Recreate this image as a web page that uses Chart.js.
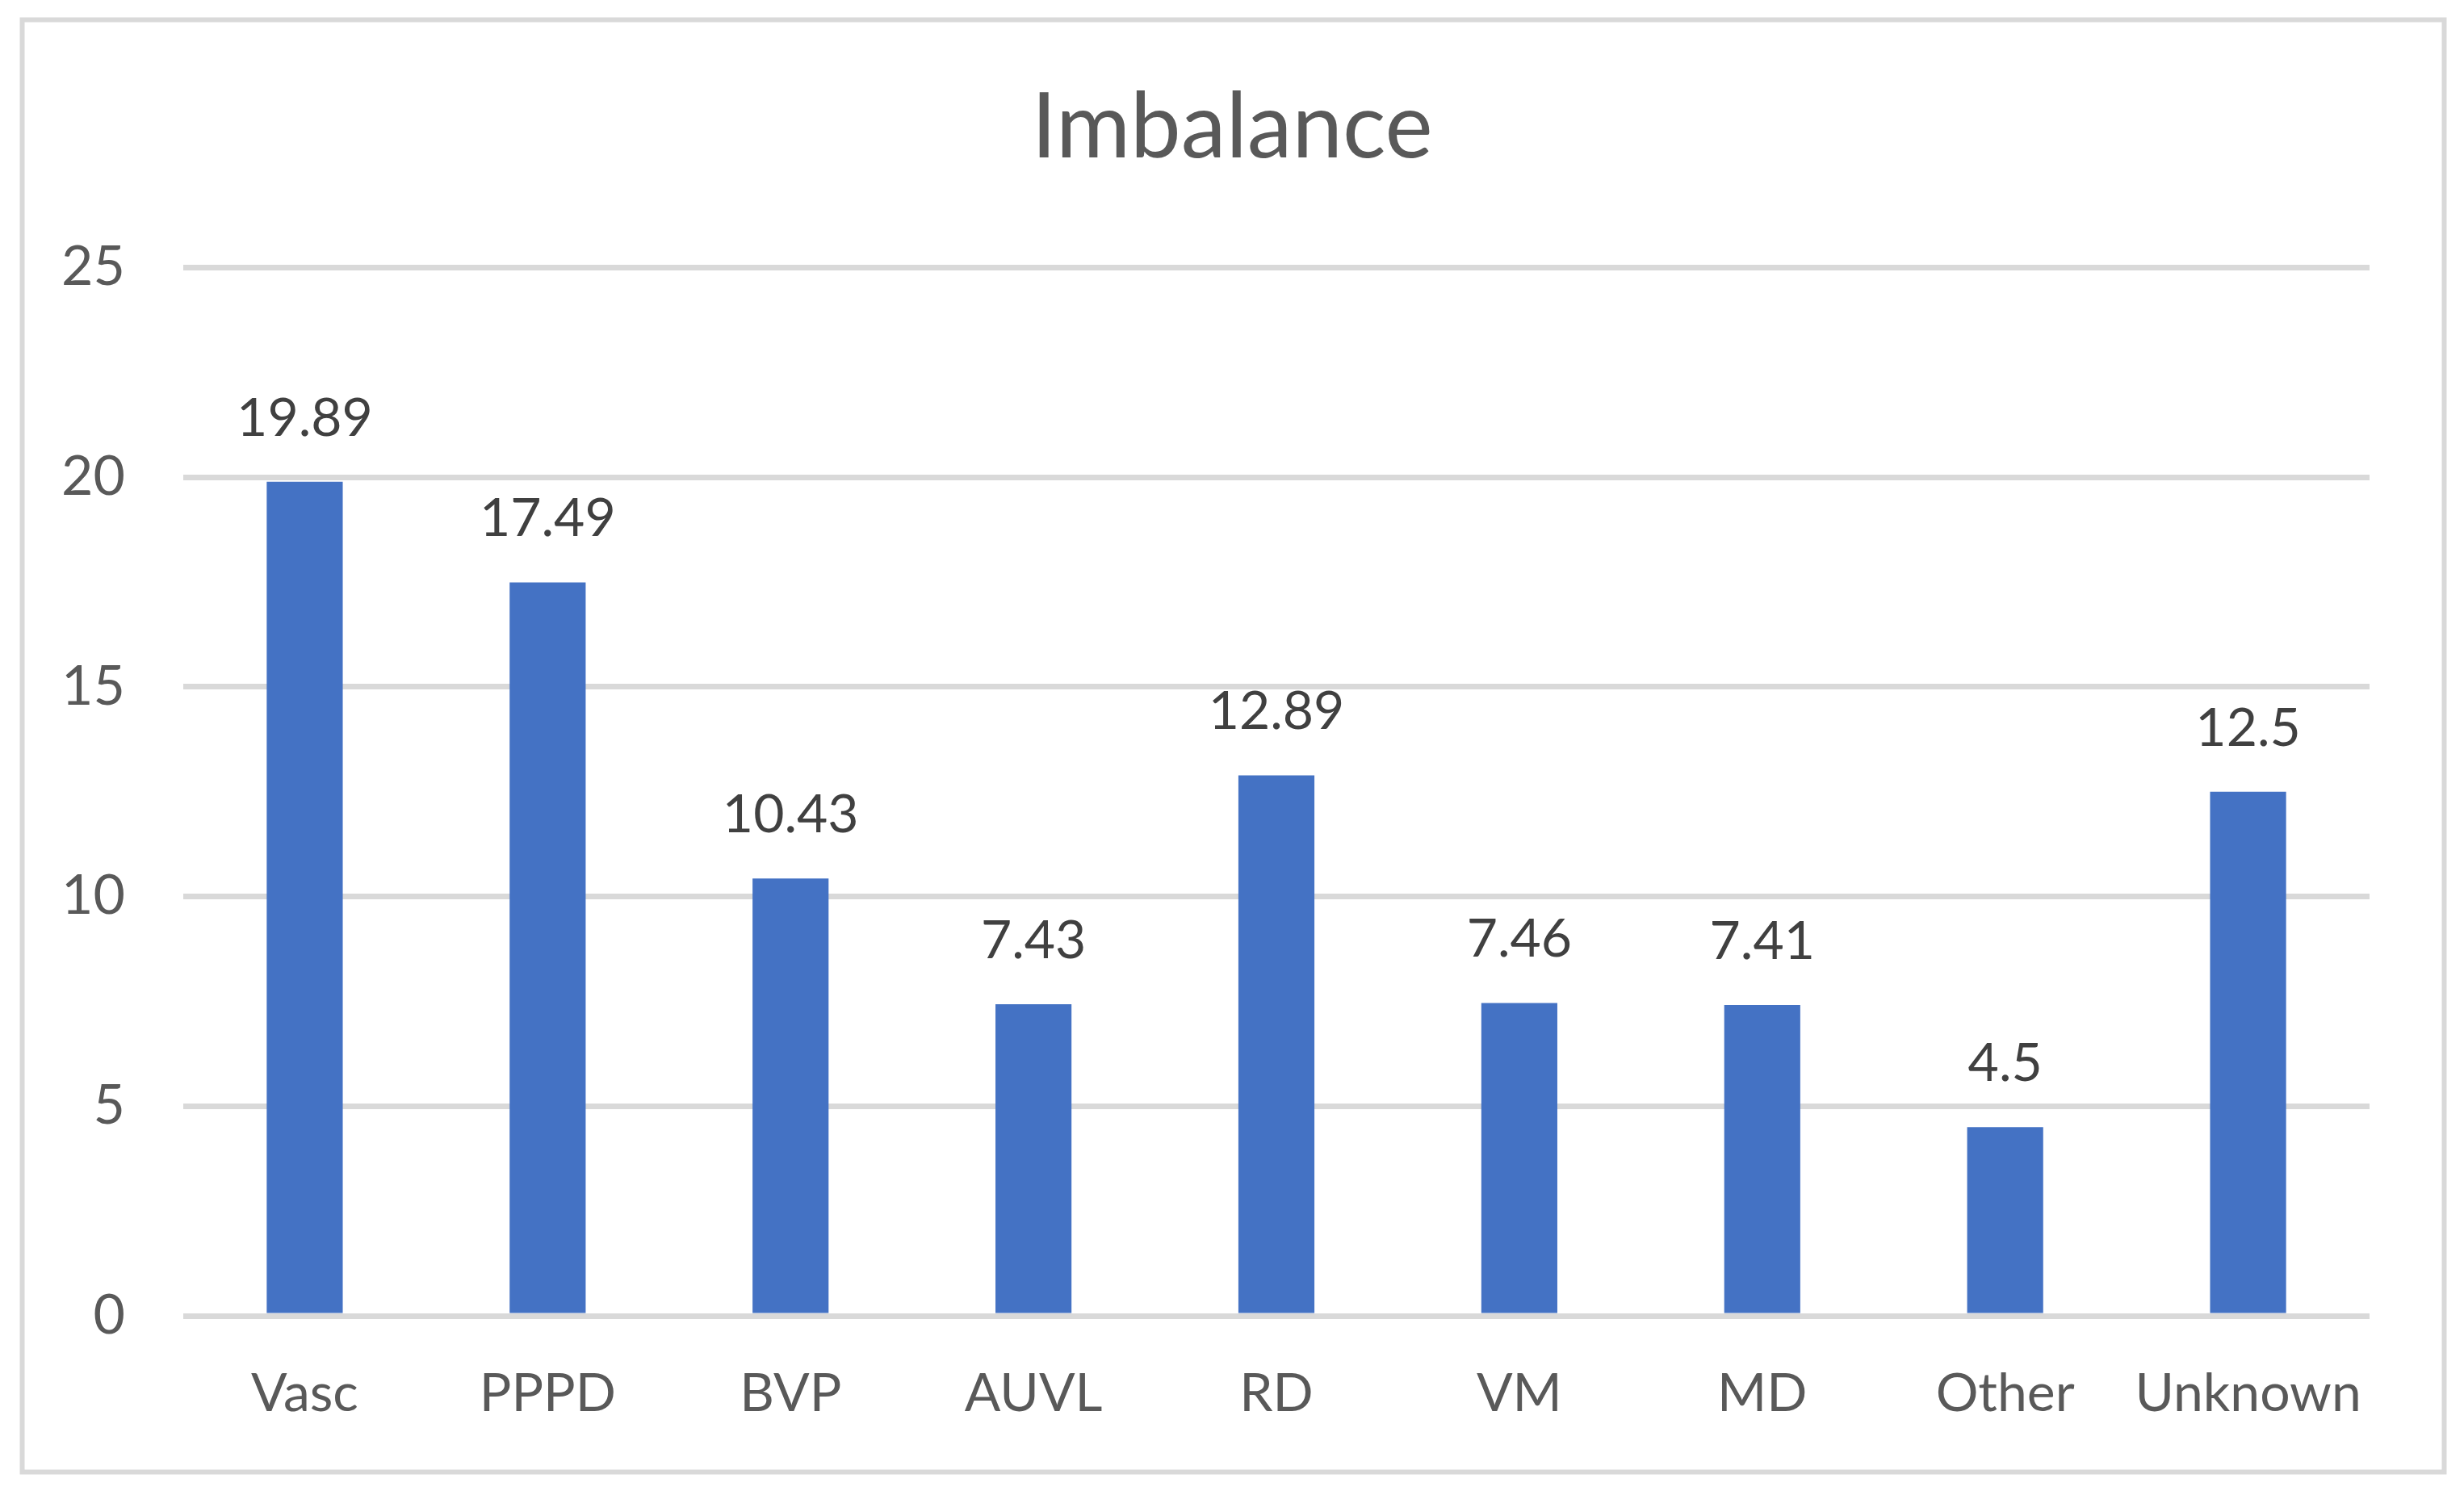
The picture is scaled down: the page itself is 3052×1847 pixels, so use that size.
<!DOCTYPE html>
<html>
<head>
<meta charset="utf-8">
<script src="https://cdn.jsdelivr.net/npm/chart.js@4/dist/chart.umd.min.js"></script>
<style>
	html, body { margin: 0; padding: 0; background: #fff; }
	canvas { display: block; }
</style>
</head>
<body>
<canvas id="chart" width="3052" height="1847"></canvas>
<script>
"use strict";

const categories = ["Vasc", "PPPD", "BVP", "AUVL", "RD", "VM", "MD", "Other", "Unknown"];
const values = [19.89, 17.49, 10.43, 7.43, 12.89, 7.46, 7.41, 4.5, 12.5];
const valueLabels = ["19.89", "17.49", "10.43", "7.43", "12.89", "7.46", "7.41", "4.5", "12.5"];
const yTicks = [0, 5, 10, 15, 20, 25];
const titleText = "Imbalance";

const FONT = "Lato, 'Open Sans', sans-serif";

// outer frame round the whole chart
const framePlugin = {
	id: "frame",
	beforeDraw(chart) {
		const ctx = chart.ctx;
		ctx.save();
		ctx.fillStyle = "#ffffff";
		ctx.fillRect(0, 0, chart.width, chart.height);
		ctx.strokeStyle = "#d9d9d9";
		ctx.lineWidth = 6;
		ctx.strokeRect(27.5, 24.5, 3000, 1799);
		ctx.restore();
	},
};

// values above the bars
const valueLabelPlugin = {
	id: "valueLabels",
	afterDatasetsDraw(chart) {
		const ctx = chart.ctx;
		const meta = chart.getDatasetMeta(0);
		ctx.save();
		ctx.fillStyle = "#404040";
		ctx.font = `66px ${FONT}`;
		ctx.textAlign = "center";
		ctx.textBaseline = "alphabetic";
		meta.data.forEach((bar, i) => {
			ctx.fillText(valueLabels[i], bar.x, bar.y - 57);
		});
		ctx.restore();
	},
};

new Chart(document.getElementById("chart"), {
	type: "bar",
	data: {
		labels: categories,
		datasets: [
			{
				label: titleText,
				data: values,
				backgroundColor: "#4472c4",
				borderWidth: 0,
				barPercentage: 0.313,
				categoryPercentage: 1.0,
			},
		],
	},
	options: {
		responsive: false,
		animation: false,
		devicePixelRatio: 1,
		layout: {
			padding: 0,
		},
		plugins: {
			legend: { display: false },
			tooltip: { enabled: false },
			title: {
				display: true,
				text: titleText,
				color: "#595959",
				font: { family: FONT, size: 112, weight: "normal", lineHeight: 1.2 },
				padding: { top: 92, bottom: 105 },
			},
		},
		scales: {
			x: {
				grid: { display: false, drawTicks: false },
				border: { display: false },
				ticks: {
					color: "#595959",
					font: { family: FONT, size: 66 },
					padding: 57,
					maxRotation: 0,
					autoSkip: false,
				},
				afterFit(scale) {
					scale.height = 217;
				},
			},
			y: {
				min: 0,
				max: 25,
				afterBuildTicks(scale) {
					scale.ticks = yTicks.map(v => ({ value: v }));
				},
				grid: { color: "#d9d9d9", lineWidth: 7, drawTicks: false },
				border: { display: false },
				ticks: {
					color: "#595959",
					font: { family: FONT, size: 68 },
					padding: 72,
				},
				afterFit(scale) {
					scale.width = 227;
				},
			},
			// empty axis on the right, only to keep the plot clear of the frame
			yRight: {
				position: "right",
				display: true,
				min: 0,
				max: 25,
				grid: { display: false, drawTicks: false },
				border: { display: false },
				ticks: { display: false },
				afterFit(scale) {
					scale.width = 117;
				},
			},
		},
	},
	plugins: [framePlugin, valueLabelPlugin],
});
</script>
</body>
</html>
